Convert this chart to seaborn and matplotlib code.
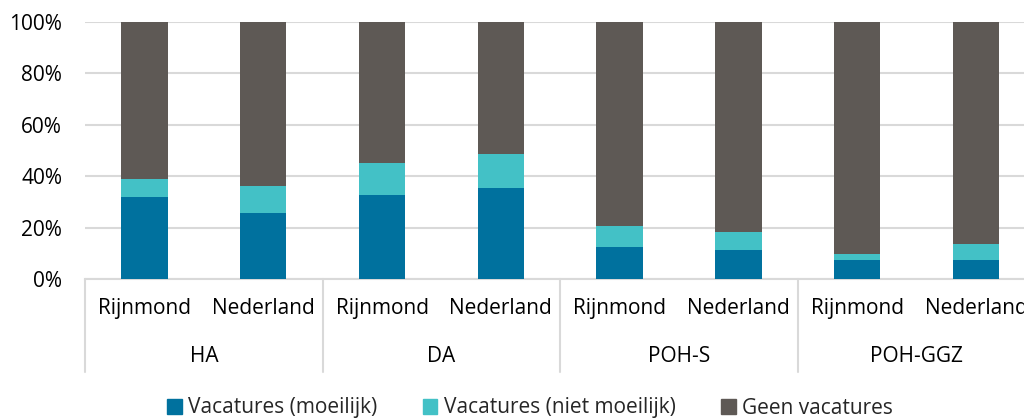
import matplotlib.pyplot as plt
import matplotlib.transforms as mtransforms
from matplotlib.patches import Patch
import pandas as pd
import seaborn as sns

# data (percentages)
groups = ['HA', 'DA', 'POH-S', 'POH-GGZ']
regions = ['Rijnmond', 'Nederland']
moeilijk = [32.0, 25.6, 32.7, 35.3, 12.6, 11.3, 7.4, 7.4]
niet_moeilijk = [6.8, 10.6, 12.4, 13.3, 8.2, 6.9, 2.4, 6.1]
geen = [100 - a - b for a, b in zip(moeilijk, niet_moeilijk)]

keys = [f'{g} {r}' for g in groups for r in regions]
df = pd.DataFrame({'key': keys, 'moeilijk': moeilijk, 'niet': niet_moeilijk, 'geen': geen})
df['cum2'] = df['moeilijk'] + df['niet']
df['cum3'] = df['cum2'] + df['geen']

c_blue = '#00719E'
c_teal = '#43C1C6'
c_gray = '#5E5955'
grid_c = '#D9D9D9'
fs = 15

sns.set_theme(style='white')
plt.rcParams['font.family'] = ['Open Sans', 'DejaVu Sans']

fig = plt.figure(figsize=(10.24, 4.2), dpi=100)
ax = fig.add_axes([85 / 1024, 141 / 420, (1035.5 - 85) / 1024, 257 / 420])

bw = 0.39
sns.barplot(data=df, x='key', y='cum3', color=c_gray, width=bw, ax=ax, saturation=1, zorder=3)
sns.barplot(data=df, x='key', y='cum2', color=c_teal, width=bw, ax=ax, saturation=1, zorder=3)
sns.barplot(data=df, x='key', y='moeilijk', color=c_blue, width=bw, ax=ax, saturation=1, zorder=3)
for p in ax.patches:
    p.set_linewidth(0)

ax.set_ylim(0, 100)
ax.set_xlim(-0.5, 7.5)
ax.set_yticks(range(0, 101, 20))
ax.set_yticklabels([f'{v}%' for v in range(0, 101, 20)], fontsize=fs, color='#000000')
ax.tick_params(axis='y', length=0, pad=16.5)
ax.set_xticks([])
ax.set_xlabel('')
ax.set_ylabel('')
ax.yaxis.grid(True, color=grid_c, linewidth=1.5, zorder=0)
for s in ['top', 'right', 'left']:
    ax.spines[s].set_visible(False)
ax.spines['bottom'].set_color(grid_c)
ax.spines['bottom'].set_linewidth(1.5)

# two-level category axis
trans = mtransforms.blended_transform_factory(ax.transData, ax.transAxes)
for i, k in enumerate(keys):
    ax.text(i, -0.113, regions[i % 2], transform=trans, ha='center', va='center',
            fontsize=fs, color='#000000')
for j, g in enumerate(groups):
    ax.text(2 * j + 0.5, -0.303, g, transform=trans, ha='center', va='center',
            fontsize=fs, color='#000000')
for xs in [-0.5, 1.5, 3.5, 5.5]:
    ax.plot([xs, xs], [0, -0.362], transform=trans, color=grid_c, linewidth=1.5,
            clip_on=False)

handles = [Patch(color=c_blue, label='Vacatures (moeilijk)'),
           Patch(color=c_teal, label='Vacatures (niet moeilijk)'),
           Patch(color=c_gray, label='Geen vacatures')]
fig.legend(handles=handles, loc='center', bbox_to_anchor=(530 / 1024, 1 - 408 / 420),
           ncol=3, frameon=False, fontsize=fs, handlelength=0.7, handleheight=0.7,
           handletextpad=0.3, columnspacing=2.2)

fig.savefig('out.png', dpi=100)
